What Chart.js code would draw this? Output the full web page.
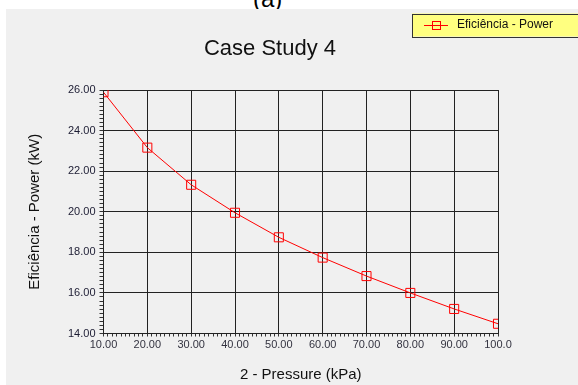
<!DOCTYPE html>
<html>
<head>
<meta charset="utf-8">
<script src="https://cdn.jsdelivr.net/npm/chart.js@4.4.1/dist/chart.umd.min.js"></script>
<style>
  html, body { margin: 0; padding: 0; background: #ffffff; }
  body { width: 578px; height: 385px; position: relative; overflow: hidden; }
  #tag {
    position: absolute; left: 253px; top: -13px;
    font: 24px/24px 'Liberation Sans', Arial, sans-serif; color: #000;
  }
  #panel {
    position: absolute; left: 6px; top: 9px; width: 572px; height: 376px;
    background: #f0f0f0; overflow: hidden;
  }
  #chart { position: absolute; left: -29px; top: 0; }
</style>
</head>
<body>
<div id="tag">(a)</div>
<div id="panel">
  <canvas id="chart" width="601" height="376"></canvas>
</div>
<script>
// dados do gráfico
const pressure = [10, 20, 30, 40, 50, 60, 70, 80, 90, 100];
const power = [25.89, 23.16, 21.33, 19.95, 18.74, 17.74, 16.83, 16.00, 15.21, 14.48];
const seriesName = 'Eficiência - Power';
const chartTitle = 'Case Study 4';
const xTitle = '2 - Pressure (kPa)';
const yTitle = 'Eficiência - Power (kW)';

Chart.defaults.font.family = "'Liberation Sans', Arial, sans-serif";

// ícone da legenda: linha com quadrado
const legendIcon = document.createElement('canvas');
legendIcon.width = 24;
legendIcon.height = 10;
(function () {
    const c = legendIcon.getContext('2d');
    c.strokeStyle = '#ff0000';
    c.lineWidth = 1;
    c.beginPath();
    c.moveTo(0, 5.5);
    c.lineTo(24, 5.5);
    c.stroke();
    c.strokeRect(8.5, 1.5, 8, 8);
})();

// fundo amarelo da legenda
const legendBox = {
    id: 'legendBox',
    beforeDraw(chart) {
        const hb = chart.legend.legendHitBoxes[0];
        if (!hb) return;
        const ctx = chart.ctx;
        const x = hb.left - 9;
        const y = hb.top + 6 - 11.5;
        ctx.save();
        ctx.fillStyle = '#ffff80';
        ctx.fillRect(x, y, chart.width - x + 2, 23);
        ctx.strokeStyle = '#333333';
        ctx.lineWidth = 1;
        ctx.strokeRect(Math.round(x) + 0.5, Math.round(y) + 0.5, chart.width - x + 2, 23);
        ctx.restore();
    }
};

const isMajorX = v => Math.round(v) % 10 === 0;
const isMajorY = v => Math.round(v * 10) % 20 === 0;

new Chart(document.getElementById('chart'), {
    type: 'line',
    data: {
        datasets: [{
            label: seriesName,
            data: pressure.map((p, i) => ({ x: p, y: power[i] })),
            borderColor: '#ff0000',
            borderWidth: 1,
            tension: 0,
            pointStyle: 'rect',
            pointRadius: 6.4,
            pointBorderWidth: 1,
            pointBorderColor: '#ff0000',
            pointBackgroundColor: 'rgba(0,0,0,0)',
            clip: 0
        }]
    },
    options: {
        responsive: false,
        animation: false,
        layout: { padding: { left: 0, right: 15, top: 0, bottom: 0 } },
        plugins: {
            legend: {
                position: 'top',
                align: 'end',
                weight: 3000,
                maxHeight: 26,
                labels: {
                    usePointStyle: true,
                    pointStyle: legendIcon,
                    pointStyleWidth: 30,
                    padding: 10,
                    color: '#111111',
                    font: { size: 12 }
                }
            },
            title: {
                display: true,
                text: chartTitle,
                color: '#111111',
                font: { size: 22, weight: 'normal', lineHeight: 1 },
                padding: { top: 3, bottom: 30 }
            },
            tooltip: { enabled: false }
        },
        scales: {
            x: {
                type: 'linear',
                min: 10,
                max: 100,
                afterFit: s => { s.height = 51.5; },
                border: { color: '#222222', width: 1 },
                grid: {
                    color: ctx => (ctx.tick && isMajorX(ctx.tick.value)) ? '#222222' : 'rgba(0,0,0,0)',
                    tickColor: '#333333',
                    tickLength: 3
                },
                ticks: {
                    stepSize: 1,
                    autoSkip: false,
                    maxRotation: 0,
                    minRotation: 0,
                    padding: 2,
                    color: '#333340',
                    font: { size: 11 },
                    callback: v => isMajorX(v) ? v.toFixed(2).slice(0, 5) : ''
                },
                title: {
                    display: true,
                    text: xTitle,
                    color: '#111111',
                    font: { size: 15 },
                    padding: { top: 0, bottom: 1 }
                }
            },
            y: {
                type: 'linear',
                min: 14,
                max: 26,
                afterFit: s => { s.width = 126.5; },
                border: { color: '#222222', width: 1 },
                grid: {
                    color: ctx => (ctx.tick && isMajorY(ctx.tick.value)) ? '#222222' : 'rgba(0,0,0,0)',
                    tickColor: '#333333',
                    tickLength: 4
                },
                ticks: {
                    stepSize: 0.2,
                    autoSkip: false,
                    padding: 4,
                    color: '#1c1c33',
                    font: { size: 11 },
                    callback: v => isMajorY(v) ? v.toFixed(2) : ''
                },
                title: {
                    display: true,
                    text: yTitle,
                    color: '#111111',
                    font: { size: 15 },
                    padding: { top: 49, bottom: 0 }
                }
            },
            yR: {
                type: 'linear',
                position: 'right',
                afterFit: s => { s.width = 65; },
                border: { display: false },
                grid: { display: false },
                ticks: { display: false }
            }
        }
    },
    plugins: [legendBox]
});
</script>
</body>
</html>
